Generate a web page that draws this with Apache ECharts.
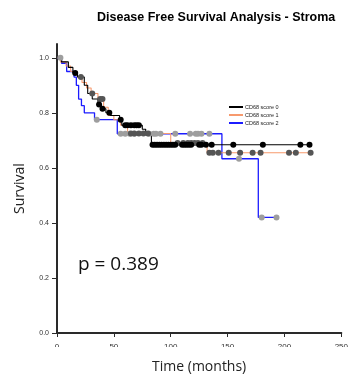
<!DOCTYPE html>
<html>
<head>
<meta charset="utf-8">
<script src="https://cdn.jsdelivr.net/npm/echarts@6/dist/echarts.min.js"></script>
<style>
  html, body { margin: 0; padding: 0; background: #fff; }
  #chart { width: 351px; height: 379px; }
</style>
</head>
<body>
<div id="chart"></div>
<script>
// Kaplan-Meier steps: time of each drop (months) and survival after it
const months0 = [0, 4, 10, 14, 18, 24, 27, 31, 36, 39, 43, 47, 55, 57, 75, 78, 83];
const surv0   = [1.0, 0.985, 0.965, 0.945, 0.93, 0.90, 0.87, 0.85, 0.83, 0.815, 0.80, 0.79, 0.775, 0.755, 0.74, 0.72, 0.684];
const censor0 = [16, 37, 40, 46, 56, 60, 62, 65, 68, 70, 72, 84, 86, 88, 90, 92, 94, 96, 98, 100, 102, 104, 110, 112, 114, 116, 118, 125, 127, 131, 136, 155, 181, 214, 222];

const months1 = [0, 3, 8, 12, 18, 22, 26, 30, 36, 41, 45, 50, 56, 62, 100, 132];
const surv1   = [1.0, 0.985, 0.97, 0.95, 0.93, 0.91, 0.89, 0.87, 0.85, 0.82, 0.79, 0.775, 0.755, 0.725, 0.69, 0.655];
const censor1 = [21, 31, 38, 40, 65, 68, 72, 76, 80, 106, 111, 115, 118, 121, 124, 128, 134, 137, 142, 151, 161, 172, 179, 204, 210, 223];

const months2 = [0, 4, 8.5, 15, 17, 19, 21.5, 24, 33, 53, 145, 177];
const surv2   = [1.0, 0.98, 0.95, 0.93, 0.90, 0.85, 0.826, 0.80, 0.775, 0.724, 0.633, 0.42];
const censor2 = [3, 35, 56, 60, 64, 68, 81, 85, 87, 91, 104, 117, 122, 124, 127, 134, 160, 180, 193];

const groupNames = ['CD68 score 0', 'CD68 score 1', 'CD68 score 2'];
const xTicks = [0, 50, 100, 150, 200, 250];
const yTicks = [0, 0.2, 0.4, 0.6, 0.8, 1.0];
const pValueText = 'p = 0.389';

const lineColors = ['#000000', '#f79a6e', '#1c1cff'];
const dotColors = ['#000000', '#555555', '#9e9e9e'];

function survivalAt(times, surv, t) {
  let s = surv[0];
  for (let i = 0; i < times.length; i++) if (times[i] <= t) s = surv[i];
  return s;
}

function stepLine(times, surv, censor) {
  const pts = times.map((t, i) => [t, surv[i]]);
  const last = Math.max(...censor);
  if (last > times[times.length - 1]) pts.push([last, surv[surv.length - 1]]);
  return pts;
}

function censorDots(times, surv, censor) {
  return censor.map(t => [t, survivalAt(times, surv, t)]);
}

const groups = [
  [months0, surv0, censor0],
  [months1, surv1, censor1],
  [months2, surv2, censor2]
];

const series = [];
// lines: blue underneath, black on top
[2, 1, 0].forEach(g => {
  const [t, s, c] = groups[g];
  series.push({
    name: groupNames[g],
    type: 'line',
    step: 'end',
    data: stepLine(t, s, c),
    symbol: 'none',
    lineStyle: { color: lineColors[g], width: g === 2 ? 1.3 : 1.1 },
    itemStyle: { color: lineColors[g] },
    z: 2,
    animation: false
  });
});
[2, 1, 0].forEach(g => {
  const [t, s, c] = groups[g];
  series.push({
    name: groupNames[g] + ' censored',
    type: 'scatter',
    data: censorDots(t, s, c),
    symbol: 'circle',
    symbolSize: 6,
    itemStyle: { color: dotColors[g], opacity: 1 },
    z: 3,
    animation: false
  });
});

const chart = echarts.init(document.getElementById('chart'), null, { renderer: 'canvas' });
chart.setOption({
  animation: false,
  title: {
    text: 'Disease Free Survival Analysis - Stroma',
    left: 92, top: 6,
    textStyle: { fontFamily: 'Liberation Sans', fontSize: 12.5, fontWeight: 'bold', color: '#000' }
  },
  legend: {
    data: groupNames,
    orient: 'vertical',
    left: 224, top: 99,
    itemWidth: 14, itemHeight: 2, itemGap: 2,
    icon: 'rect',
    textStyle: { fontFamily: 'Liberation Sans', fontSize: 5.5, color: '#222', padding: [0, 0, 0, -3] }
  },
  grid: { left: 57, right: 6, top: 44, bottom: 46, containLabel: false },
  xAxis: {
    type: 'value', min: 0, max: 250, interval: 50,
    name: 'Time (months)', nameLocation: 'middle', nameGap: 27,
    nameTextStyle: { fontFamily: 'Open Sans', fontSize: 14, color: '#222' },
    axisLine: { show: true, lineStyle: { color: '#2a2a2a', width: 2 } },
    axisTick: { show: true, length: 4, lineStyle: { color: '#2a2a2a', width: 1 } },
    axisLabel: { fontFamily: 'Liberation Sans', fontSize: 8, color: '#333', margin: 10, customValues: xTicks },
    splitLine: { show: false }
  },
  yAxis: {
    type: 'value', min: 0, max: 1.05,
    name: 'Survival', nameLocation: 'middle', nameGap: 30,
    nameTextStyle: { fontFamily: 'Open Sans', fontSize: 14, color: '#222' },
    axisLine: { show: true, lineStyle: { color: '#2a2a2a', width: 2 } },
    axisTick: { show: true, length: 5, lineStyle: { color: '#2a2a2a', width: 1 }, customValues: yTicks },
    axisLabel: { fontFamily: 'Liberation Sans', fontSize: 7, color: '#333', margin: 8, customValues: yTicks,
                 formatter: v => v.toFixed(1) },
    splitLine: { show: false }
  },
  graphic: [
    { type: 'text', left: 78, top: 255, z: 10,
      style: { text: pValueText, fontFamily: 'Open Sans', fontSize: 19, fill: '#111' } },
    // the tick labels along the time axis are cut through their middle
    { type: 'rect', left: 50, top: 347, z: 100,
      shape: { width: 301, height: 8 }, style: { fill: '#fff' } }
  ],
  series: series
});
</script>
</body>
</html>
